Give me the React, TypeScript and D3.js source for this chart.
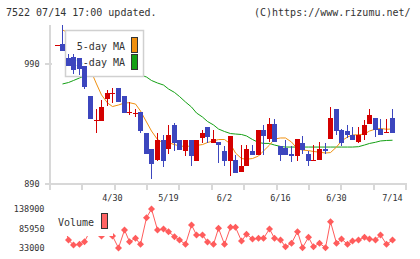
import React from "react";
import * as d3 from "d3";

// Trading days shown on the chart (oldest first)
const dates = [
  "4/15","4/16","4/17","4/18","4/21","4/22","4/23","4/24","4/25","4/28",
  "4/30","5/2","5/7","5/8","5/9","5/12","5/13","5/14","5/15","5/16",
  "5/19","5/20","5/21","5/22","5/23","5/26","5/27","5/28","5/29","5/30",
  "6/2","6/3","6/4","6/5","6/6","6/9","6/10","6/11","6/12","6/13",
  "6/16","6/17","6/18","6/19","6/20","6/23","6/24","6/25","6/26","6/27",
  "6/30","7/1","7/2","7/3","7/4","7/7","7/8","7/9","7/10","7/11","7/14",
];

const openPrices = [
  1005,1007,995,996,995,988,963,942,942,961,
  965,970,963,949,948,950,932,919,910,926,
  919,939,926,917,926,909,928,937,924,925,
  917,909,910,900,905,917,914,935,927,940,
  921,920,915,913,924,915,909,910,919,927,
  952,935,934,931,925,931,940,945,936,932,945,
];
const highPrices = [
  1006,1023,998,998,995,988,963,952,960,968,
  970,970,963,958,952,950,932,919,932,931,
  939,941,926,926,926,926,935,937,935,925,
  921,930,914,922,922,922,935,939,945,944,
  921,926,921,927,930,917,922,925,924,954,
  952,936,939,937,937,943,952,945,944,944,952,
];
const lowPrices = [
  1005,1001,988,982,981,969,944,932,942,955,
  957,958,949,947,946,932,915,894,909,904,
  915,917,918,913,905,909,924,924,924,907,
  905,896,899,900,905,914,914,914,925,925,
  909,914,908,909,915,905,909,910,915,927,
  931,921,928,926,924,926,940,929,931,932,932,
];
const closePrices = [
  1006,1001,988,985,986,971,944,943,954,966,
  966,958,949,950,949,934,915,906,926,909,
  931,924,918,926,913,926,932,929,927,922,
  909,930,899,905,919,914,935,930,940,925,
  914,914,913,927,918,909,910,919,917,945,
  934,924,931,926,931,939,947,935,931,933,932,
];

// 5-day and 25-day moving averages (null where not drawn)
const ma5 = [
  null,1018.5,1016,1008.4,1001.7,993.3,985,973.3,964.1,957.4,
  954.4,955.7,957.4,957.6,956.5,950.7,941.5,933.9,926.8,923.9,
  924.1,922.6,921.4,921,921.4,921.8,922.6,924.3,925.6,926.8,
  926.8,923.1,915.5,910.9,910.3,910.9,913,917.2,922.2,927.2,
  928.1,928.1,924.7,918.9,918,917.5,916.8,916.2,915.5,915.9,
  920.5,925.6,928.9,930.6,930.8,931.4,933.9,935.6,936,935.4,935.6,
];
const ma25 = [
  null,973.3,974.5,976.2,978.3,980,981.2,982,982.5,982.9,
  982.9,982.9,982.5,982,981.6,980.8,979.1,976.2,974.1,972.4,
  969.1,966.2,962.8,958.2,954,949,945.6,941.9,939,935.6,
  933.5,931.8,931.4,931,929.8,926.8,924.3,923.6,923.5,922.2,
  921,920.5,920.5,920.5,920.5,920.5,920.5,920.5,920.5,920.5,
  920.5,920.5,920.5,920.5,920.8,922.2,923.5,924.5,925.6,926,926.2,
];

const volumes = [
  103600,109000,54700,41100,43000,50100,81900,92700,65600,76400,
  65600,33000,81900,50100,59300,43000,115300,138900,81900,84600,
  77300,63700,54700,43000,95500,68300,68300,49300,43000,86500,
  43000,89200,89200,52000,70200,57400,59300,59300,84600,59300,
  54700,36500,45800,77300,34000,62100,36500,45800,33800,104400,
  45800,57400,43000,52000,54700,62100,57400,54700,68300,43000,54700,
];

const priceTicks = [890, 990];
const volumeTicks = [33000, 85950, 138900];
const dateLabels = ["4/30", "5/19", "6/2", "6/16", "6/30", "7/14"];

const UP = "#d40000";
const DOWN = "#3c46be";
const MA5_COLOR = "#f0900f";
const MA25_COLOR = "#14a014";
const VOL_COLOR = "#ff5c5c";
const AXIS = "#d8d8d8";
const TEXT = "#333";
const FONT = "'DejaVu Sans Mono', monospace";

export default function App() {
  const W = 420;
  const H = 259;

  const x = d3.scaleLinear().domain([0, dates.length - 1]).range([56.5, 391.5]);
  const cx = (i: number) => Math.round(x(i)) + 0.5;
  const y = d3.scaleLinear().domain([890, 990]).range([183.5, 64]);
  const yv = d3.scaleLinear().domain([33000, 138900]).range([248, 209]);

  const tickX = d3.scaleLinear().domain([0, 11]).range([50, 406]);
  const axisTicks = d3.range(12).map((k) => Math.round(tickX(k)));

  const maLine = d3
    .line<number | null>()
    .defined((d) => d !== null)
    .x((_, i) => cx(i))
    .y((d) => y(d as number));

  const volLine = d3
    .line<number>()
    .x((_, i) => cx(i))
    .y((d) => yv(d));

  return (
    <svg
      width={W}
      height={H}
      style={{ position: "absolute", left: 0, top: 0, background: "#fff" }}
      fontFamily={FONT}
    >
      <rect width={W} height={H} fill="#fff" />

      <text x={6} y={16} fontSize={10} fill={TEXT}>7522 07/14 17:00 updated.</text>
      <text x={254} y={16} fontSize={10} fill={TEXT}>(C)https://www.rizumu.net/</text>

      {/* price axes */}
      <line x1={50} y1={25} x2={50} y2={190} stroke={AXIS} strokeWidth={2} />
      <line x1={45} y1={184} x2={407} y2={184} stroke={AXIS} strokeWidth={2} />
      {axisTicks.map((tx, k) => (
        <line key={k} x1={tx} y1={184} x2={tx} y2={190} stroke={AXIS} strokeWidth={2} />
      ))}
      {priceTicks.map((p) => (
        <g key={p}>
          <line x1={45} y1={Math.round(y(p))} x2={52} y2={Math.round(y(p))} stroke={AXIS} strokeWidth={2} />
          <text x={39.5} y={y(p) + 3} fontSize={8.5} textAnchor="end" fill={TEXT}>{p}</text>
        </g>
      ))}

      {/* moving averages */}
      <path d={maLine(ma25) || ""} fill="none" stroke={MA25_COLOR} strokeWidth={1} />
      <path d={maLine(ma5) || ""} fill="none" stroke={MA5_COLOR} strokeWidth={1} />

      {/* legend */}
      <rect x={65.5} y={30.5} width={78} height={46} fill="#fff" stroke="#d0d0d0" strokeWidth={1.5} />
      <text x={125} y={49.5} fontSize={10} textAnchor="end" fill={TEXT}>5-day MA</text>
      <text x={125} y={66} fontSize={10} textAnchor="end" fill={TEXT}>25-day MA</text>
      <rect x={131.5} y={37.5} width={6} height={15} fill={MA5_COLOR} stroke="#333" strokeWidth={1} />
      <rect x={131.5} y={54.5} width={6} height={15} fill={MA25_COLOR} stroke="#333" strokeWidth={1} />

      {/* candles */}
      <g shapeRendering="crispEdges">
        {dates.map((d, i) => {
          const o = openPrices[i];
          const c = closePrices[i];
          const color = c >= o ? UP : DOWN;
          const top = Math.round(y(Math.max(o, c)));
          const bot = Math.round(y(Math.min(o, c)));
          const xc = Math.round(x(i));
          return (
            <g key={d}>
              <rect
                x={xc}
                y={Math.round(y(highPrices[i]))}
                width={1}
                height={Math.max(1, Math.round(y(lowPrices[i])) - Math.round(y(highPrices[i])))}
                fill={color}
              />
              <rect x={xc - 2} y={top} width={5} height={Math.max(1, bot - top)} fill={color} />
            </g>
          );
        })}
      </g>

      {dateLabels.map((lbl) => {
        const i = dates.indexOf(lbl);
        return (
          <text key={lbl} x={cx(i)} y={201} fontSize={8.5} textAnchor="middle" fill={TEXT}>{lbl}</text>
        );
      })}

      {/* volume */}
      <path d={volLine(volumes) || ""} fill="none" stroke={VOL_COLOR} strokeWidth={1} />
      {volumes.map((v, i) => {
        const px = cx(i);
        const py = yv(v);
        return (
          <path
            key={i}
            d={`M${px},${py - 3.5}L${px + 3.5},${py}L${px},${py + 3.5}L${px - 3.5},${py}Z`}
            fill={VOL_COLOR}
          />
        );
      })}
      <rect x={52} y={210} width={61} height={26} fill="#fff" />
      <text x={58} y={226} fontSize={10} fill={TEXT}>Volume</text>
      <rect x={101.5} y={213.5} width={6} height={15} fill="#ff6464" stroke="#333" strokeWidth={1} />
      {volumeTicks.map((v) => (
        <text key={v} x={44.5} y={yv(v) + 3} fontSize={8.5} textAnchor="end" fill={TEXT}>{v}</text>
      ))}
    </svg>
  );
}
